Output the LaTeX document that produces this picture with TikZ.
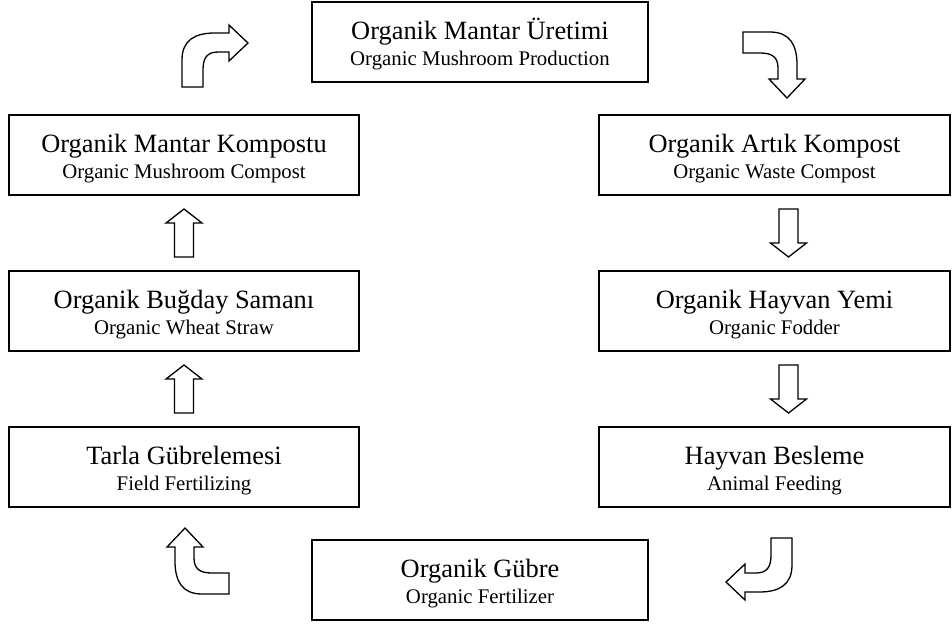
\documentclass[tikz,border=0pt]{standalone}
\usepackage{fontspec}
\setmainfont{Liberation Serif}
\usetikzlibrary{calc}

\newcommand{\engl}[1]{{\fontsize{20.8}{26}\selectfont #1}}
\newcommand{\boxtext}[2]{\rule{0pt}{25.6pt}#1\\\engl{#2}}

\tikzset{
  box/.style={draw, line width=1.8pt, minimum width=350pt, minimum height=80pt,
    inner sep=0pt, align=center, font=\fontsize{26.4}{26}\selectfont},
  outline/.style={draw, fill=white, line width=1.3pt},
  uparrow/.pic={\path[outline] (-9.5,24) -- (-9.5,-10) -- (-18,-10) -- (0,-24)
    -- (18,-10) -- (9.5,-10) -- (9.5,24) -- cycle;},
  bentarrow/.pic={\path[outline] (0,0) -- (0,-27) .. controls (0,-47) and (13,-54) .. (33,-54)
    -- (47,-54) -- (47,-62) -- (66,-44) -- (47,-26) -- (47,-35) -- (36,-35)
    .. controls (25,-35) and (21,-29) .. (21,-17) -- (21,0) -- cycle;}
}

\begin{document}
\begin{tikzpicture}[x=1pt,y=-1pt]
\useasboundingbox (0,0) rectangle (952,625);
% cycle boxes
\node[box, minimum width=336pt] (uretim) at (480,42) {\boxtext{Organik Mantar Üretimi}{Organic Mushroom Production}};
\node[box, minimum width=351pt] (artik) at (774.5,155) {\boxtext{Organik Artık Kompost}{Organic Waste Compost}};
\node[box, minimum width=351pt] (yem) at (774.5,311) {\boxtext{Organik Hayvan Yemi}{Organic Fodder}};
\node[box, minimum width=351pt] (besleme) at (774.5,467) {\boxtext{Hayvan Besleme}{Animal Feeding}};
\node[box, minimum width=336pt] (gubre) at (480,580) {\boxtext{Organik Gübre}{Organic Fertilizer}};
\node[box] (tarla) at (184,467) {\boxtext{Tarla Gübrelemesi}{Field Fertilizing}};
\node[box] (bugday) at (184,311) {\boxtext{Organik Buğday Samanı}{Organic Wheat Straw}};
\node[box] (kompostu) at (184,155) {\boxtext{Organik Mantar Kompostu}{Organic Mushroom Compost}};

% straight arrows
\pic at ($(kompostu.south)!.5!(bugday.north)$) {uparrow};
\pic at ($(bugday.south)!.5!(tarla.north)$) {uparrow};
\pic[rotate=180] at ($(artik.south)!.5!(yem.north)+(14,0)$) {uparrow};
\pic[rotate=180] at ($(yem.south)!.5!(besleme.north)+(14,0)$) {uparrow};

% bent arrows at the corners
\pic at (182,87) {bentarrow};
\pic[rotate=-90] at (743,32) {bentarrow};
\pic[rotate=180] at (792,538) {bentarrow};
\pic[rotate=90] at (229,594) {bentarrow};
\end{tikzpicture}
\end{document}
